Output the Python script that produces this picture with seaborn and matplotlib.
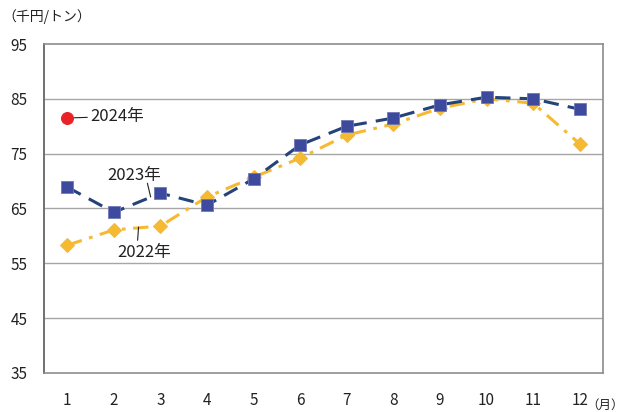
import matplotlib
matplotlib.use("Agg")
import matplotlib.pyplot as plt
import seaborn as sns
import pandas as pd

months = list(range(1, 13))
month_labels = [str(m) for m in months]
price_2022 = [58.3, 61.1, 61.8, 67.1, 70.7, 74.2, 78.4, 80.4, 83.3, 85.0, 84.2, 76.8]
price_2023 = [68.9, 64.3, 67.8, 65.6, 70.4, 76.6, 80.0, 81.5, 83.9, 85.3, 85.0, 83.1]
price_2024 = [81.5]
y_ticks = [35, 45, 55, 65, 75, 85, 95]

sns.set_theme(style="white")
plt.rcParams["font.family"] = ["Noto Sans CJK JP", "DejaVu Sans"]

fig = plt.figure(figsize=(6.22, 4.12), dpi=100)
ax = fig.add_axes([0.0707, 0.0947, 0.8988, 0.7985])

df22 = pd.DataFrame({"month": months, "price": price_2022})
df23 = pd.DataFrame({"month": months, "price": price_2023})
df24 = pd.DataFrame({"month": months[:len(price_2024)], "price": price_2024})

yellow = "#F5B932"
navy_line = "#24437A"
navy_mark = "#3D4A9E"
ink = "#222222"

sns.lineplot(data=df22, x="month", y="price", ax=ax, color=yellow, lw=2.2,
             linestyle=(0, (5, 2.5, 1.2, 2.5)), marker="D", markersize=7,
             markerfacecolor=yellow, markeredgecolor=yellow, zorder=3)
sns.lineplot(data=df23, x="month", y="price", ax=ax, color=navy_line, lw=2.2,
             linestyle=(0, (5, 3)), marker="s", markersize=8,
             markerfacecolor=navy_mark, markeredgecolor="#6F78B8",
             markeredgewidth=0.6, zorder=4)
sns.scatterplot(data=df24, x="month", y="price", ax=ax, color="#EA2227",
                s=75, edgecolor="#EA2227", zorder=5)

ax.set_xlim(0.5, 12.5)
ax.set_ylim(35, 95)
ax.set_yticks(y_ticks)
ax.set_xticks(months)
ax.set_xticklabels(month_labels)
ax.set_xlabel("")
ax.set_ylabel("")
ax.tick_params(axis="both", length=0, labelsize=11, colors=ink)
ax.tick_params(axis="x", pad=14)
ax.tick_params(axis="y", pad=12)

for y in y_ticks[1:-1]:
    ax.axhline(y, color="#A6A6A6", lw=1, zorder=1)
for side in ["top", "right", "bottom"]:
    ax.spines[side].set_color("#8C8C8C")
    ax.spines[side].set_linewidth(1.2)
ax.spines["left"].set_color("#707070")
ax.spines["left"].set_linewidth(1.4)

# series labels with leader lines
ax.annotate("2024年", xy=(1, 81.5), xytext=(1.5, 81.8), fontsize=12,
            va="center", ha="left", color=ink,
            arrowprops=dict(arrowstyle="-", color=ink, lw=0.8,
                            shrinkA=0, shrinkB=5))
ax.text(2.43, 71.1, "2023年", fontsize=12, ha="center", va="center", color=ink)
ax.plot([2.72, 2.79], [69.6, 67.1], color=ink, lw=0.8, zorder=6)
ax.text(2.65, 57.0, "2022年", fontsize=12, ha="center", va="center", color=ink)
ax.plot([2.53, 2.51], [61.6, 59.2], color=ink, lw=0.8, zorder=6)

fig.text(2 / 622, 1 - 17 / 412, "（千円/トン）", fontsize=10, ha="left",
         va="center", color=ink)
fig.text(586 / 622, 1 - 405 / 412, "（月）", fontsize=9, ha="left",
         va="center", color=ink)

fig.savefig("out.png", dpi=100, facecolor="white")
